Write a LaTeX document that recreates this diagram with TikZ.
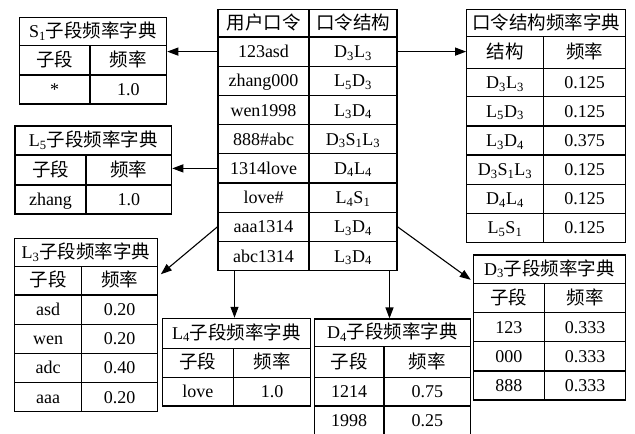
\documentclass[tikz,border=0pt]{standalone}
\usepackage{fontspec}
\setmainfont{Liberation Serif}
\newfontfamily\cjk{Noto Sans CJK SC}
\usetikzlibrary{arrows.meta,calc}
\newcommand{\zh}[1]{{\cjk\fontsize{18.5}{20}\selectfont #1}}
\newcommand{\cellbox}[6]{\node[cellsty, minimum width={(#4-#2)*1pt}, minimum height={(#5-#3)*1pt}] (#1) at ({(#2+#4)/2},{(#3+#5)/2}) {#6};}
\newcommand{\trow}[8]{\cellbox{#1a}{#2}{#5}{#3}{#6}{#7}\cellbox{#1b}{#3}{#5}{#4}{#6}{#8}}
\newcommand{\sd}[1]{\textsubscript{#1}}
\tikzset{
  cellsty/.style={draw, line width=1.1pt, inner sep=0pt, text height=15pt, text depth=3pt,
    font=\fontsize{18}{20}\selectfont},
  arr/.style={line width=1.1pt, -{Triangle[length=11pt,width=8pt]}}
}
\begin{document}
\begin{tikzpicture}[x=1pt,y=-1pt]
\useasboundingbox[fill=white] (0,0) rectangle (635,434);
% central table
\trow{u0}{218}{309}{397}{9.5}{37}{\zh{用户口令}}{\zh{口令结构}}
\trow{u1}{218}{309}{397}{37}{66.2}{123asd}{D\sd3L\sd3}
\trow{u2}{218}{309}{397}{66.2}{95.4}{zhang000}{L\sd5D\sd3}
\trow{u3}{218}{309}{397}{95.4}{124.6}{wen1998}{L\sd3D\sd4}
\trow{u4}{218}{309}{397}{124.6}{153.8}{888\#abc}{D\sd3S\sd1L\sd3}
\trow{u5}{218}{309}{397}{153.8}{183}{1314love}{D\sd4L\sd4}
\trow{u6}{218}{309}{397}{183}{212.2}{love\#}{L\sd4S\sd1}
\trow{u7}{218}{309}{397}{212.2}{241.4}{aaa1314}{L\sd3D\sd4}
\trow{u8}{218}{309}{397}{241.4}{270.6}{abc1314}{L\sd3D\sd4}
% S1 table
\cellbox{sh}{19.3}{17.3}{166.7}{45.7}{S\sd1\zh{子段频率字典}}
\trow{s0}{19.3}{90}{166.7}{45.7}{75}{\zh{子段}}{\zh{频率}}
\trow{s1}{19.3}{90}{166.7}{75}{104}{*}{1.0}
% L5 table
\cellbox{lfh}{15}{126}{171.7}{155}{L\sd5\zh{子段频率字典}}
\trow{lf0}{15}{86}{171.7}{155}{185}{\zh{子段}}{\zh{频率}}
\trow{lf1}{15}{86}{171.7}{185}{214}{zhang}{1.0}
% L3 table
\cellbox{lth}{14.7}{238.3}{157.3}{266.7}{L\sd3\zh{子段频率字典}}
\trow{lt0}{14.7}{81.7}{157.3}{266.7}{295}{\zh{子段}}{\zh{频率}}
\trow{lt1}{14.7}{81.7}{157.3}{295}{324.3}{asd}{0.20}
\trow{lt2}{14.7}{81.7}{157.3}{324.3}{353.3}{wen}{0.20}
\trow{lt3}{14.7}{81.7}{157.3}{353.3}{382.3}{adc}{0.40}
\trow{lt4}{14.7}{81.7}{157.3}{382.3}{411.7}{aaa}{0.20}
% L4 table
\cellbox{lvh}{162.3}{318.3}{310.7}{348.3}{L\sd4\zh{子段频率字典}}
\trow{lv0}{162.3}{233.3}{310.7}{348.3}{377.3}{\zh{子段}}{\zh{频率}}
\trow{lv1}{162.3}{233.3}{310.7}{377.3}{406}{love}{1.0}
% D4 table
\cellbox{dvh}{314.3}{319}{470.7}{346.7}{D\sd4\zh{子段频率字典}}
\trow{dv0}{314.3}{384}{470.7}{346.7}{377.3}{\zh{子段}}{\zh{频率}}
\trow{dv1}{314.3}{384}{470.7}{377.3}{406}{1214}{0.75}
\trow{dv2}{314.3}{384}{470.7}{406}{435}{1998}{0.25}
% D3 table
\cellbox{dth}{473.3}{255}{625.7}{283.3}{D\sd3\zh{子段频率字典}}
\trow{dt0}{473.3}{544.3}{625.7}{283.3}{312.7}{\zh{子段}}{\zh{频率}}
\trow{dt1}{473.3}{544.3}{625.7}{312.7}{341.7}{123}{0.333}
\trow{dt2}{473.3}{544.3}{625.7}{341.7}{371}{000}{0.333}
\trow{dt3}{473.3}{544.3}{625.7}{371}{400}{888}{0.333}
% structure table
\cellbox{kh}{466.7}{9.3}{625.7}{36.7}{\zh{口令结构频率字典}}
\trow{k0}{466.7}{543.3}{625.7}{36.7}{68.3}{\zh{结构}}{\zh{频率}}
\trow{k1}{466.7}{543.3}{625.7}{68.3}{96.7}{D\sd3L\sd3}{0.125}
\trow{k2}{466.7}{543.3}{625.7}{96.7}{126}{L\sd5D\sd3}{0.125}
\trow{k3}{466.7}{543.3}{625.7}{126}{155}{L\sd3D\sd4}{0.375}
\trow{k4}{466.7}{543.3}{625.7}{155}{184.3}{D\sd3S\sd1L\sd3}{0.125}
\trow{k5}{466.7}{543.3}{625.7}{184.3}{213.3}{D\sd4L\sd4}{0.125}
\trow{k6}{466.7}{543.3}{625.7}{213.3}{242.5}{L\sd5S\sd1}{0.125}
% connectors
\draw[arr] (u1a.west) -- (u1a.west -| sh.east);
\draw[arr] (u5a.west) -- (u5a.west -| lfh.east);
\draw[arr] (u7a.west) -- ([shift={(3,7)}]lth.south east);
\draw[arr] (u1b.east) -- (u1b.east -| kh.west);
\draw[arr] (u7b.east) -- ([shift={(-2,-4)}]dth.south west);
\draw[arr] ([xshift=-2]u8a.south -| lvh.north) -- ([xshift=-2]lvh.north);
\draw[arr] ([xshift=-3]u8b.south -| dvh.north) -- ([xshift=-3]dvh.north);
\end{tikzpicture}
\end{document}
